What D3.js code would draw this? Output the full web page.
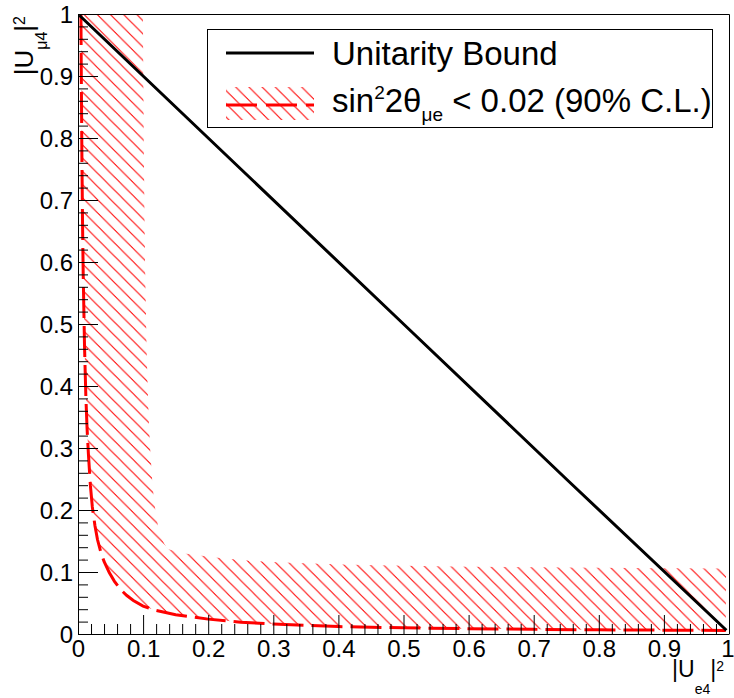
<!DOCTYPE html>
<html>
<head>
<meta charset="utf-8">
<script src="https://cdn.jsdelivr.net/npm/d3@7"></script>
<style>
  html, body { margin: 0; padding: 0; background: #fff; }
  svg { display: block; font-family: "Liberation Sans", Arial, Helvetica, sans-serif; }
  text { white-space: pre; }
</style>
</head>
<body>
<svg id="chart" width="734" height="698"></svg>
<script>
// sin^2(2θμe) = 0.02 (90% C.L.) contour in the (|U_e4|^2, |U_μ4|^2) plane
const limitUe4 = [0.0045, 0.005, 0.006, 0.007, 0.008, 0.010, 0.012, 0.014, 0.016, 0.019,
                  0.022, 0.026, 0.030, 0.035, 0.040, 0.048, 0.056, 0.065, 0.075, 0.085,
                  0.100, 0.120, 0.150, 0.200, 0.250, 0.300, 0.400, 0.500, 0.600, 0.700,
                  0.800, 0.900, 0.995];
const limitUmu4 = [1.000, 0.910, 0.770, 0.660, 0.580, 0.465, 0.385, 0.330, 0.290, 0.240,
                   0.205, 0.175, 0.152, 0.132, 0.117, 0.099, 0.085, 0.072, 0.062, 0.054,
                   0.045, 0.038, 0.031, 0.024, 0.019, 0.016, 0.012, 0.010, 0.0085, 0.0075,
                   0.0068, 0.0062, 0.0058];

// unitarity bound |U_e4|^2 + |U_μ4|^2 = 1
const boundUe4 = [0.002, 0.25, 0.50, 0.75, 0.996];
const boundUmu4 = [0.998, 0.75, 0.50, 0.25, 0.006];

const xTicks = [0, 0.1, 0.2, 0.3, 0.4, 0.5, 0.6, 0.7, 0.8, 0.9, 1];
const xTickLabels = ["0", "0.1", "0.2", "0.3", "0.4", "0.5", "0.6", "0.7", "0.8", "0.9", "1"];
const yTicks = [0, 0.1, 0.2, 0.3, 0.4, 0.5, 0.6, 0.7, 0.8, 0.9, 1];
const yTickLabels = ["0", "0.1", "0.2", "0.3", "0.4", "0.5", "0.6", "0.7", "0.8", "0.9", "1"];
const legendLabels = ["Unitarity Bound", "sin²2θμe < 0.02 (90% C.L.)"];

const svg = d3.select("#chart");
const frame = { left: 78, right: 729, top: 14, bottom: 634 };
const x = d3.scaleLinear().domain([0, 1]).range([frame.left, frame.right]);
const y = d3.scaleLinear().domain([0, 1]).range([frame.bottom, frame.top]);

const RED = "#ff0000";
const HATCH = 13.2, PHASE = 3.5;

// hatch pattern: "\" lines at 45 degrees
const defs = svg.append("defs");
const pat = defs.append("pattern")
  .attr("id", "hatch")
  .attr("patternUnits", "userSpaceOnUse")
  .attr("x", 0).attr("y", 0)
  .attr("width", HATCH).attr("height", HATCH);
pat.append("path")
  .attr("d", `M${PHASE - 2},-2 L${HATCH + 2},${HATCH - PHASE + 2} M-2,${HATCH - PHASE - 2} L${PHASE + 2},${HATCH + 2}`)
  .attr("stroke", RED).attr("stroke-width", 1).attr("fill", "none");

defs.append("clipPath").attr("id", "frameClip")
  .append("rect")
  .attr("x", frame.left).attr("y", frame.top)
  .attr("width", frame.right - frame.left).attr("height", frame.bottom - frame.top);

// excluded band: the contour offset by a fixed pixel width toward larger mixing
const limitPts = limitUe4.map((v, i) => [x(v), y(limitUmu4[i])]);
const bandWidth = 62;
const bandClip = defs.append("clipPath").attr("id", "bandClip");
for (let i = 0; i < limitPts.length - 1; i++) {
  const [x0, y0] = limitPts[i], [x1, y1] = limitPts[i + 1];
  const dx = x1 - x0, dy = y1 - y0, L = Math.hypot(dx, dy);
  const nx = dy / L * bandWidth, ny = -dx / L * bandWidth;
  bandClip.append("path")
    .attr("d", `M${x0},${y0} L${x1},${y1} L${x1 + nx},${y1 + ny} L${x0 + nx},${y0 + ny} Z`);
}

const plot = svg.append("g").attr("clip-path", "url(#frameClip)");
plot.append("g").attr("clip-path", "url(#bandClip)")
  .append("rect")
  .attr("x", 0).attr("y", 0).attr("width", 734).attr("height", 698)
  .attr("fill", "url(#hatch)");

const line = d3.line().x(d => d[0]).y(d => d[1]);

// dashed contour
plot.append("path")
  .attr("d", line(limitPts))
  .attr("fill", "none").attr("stroke", RED).attr("stroke-width", 3)
  .attr("stroke-dasharray", "31,8");

// unitarity bound
plot.append("path")
  .attr("d", line(boundUe4.map((v, i) => [x(v), y(boundUmu4[i])])))
  .attr("fill", "none").attr("stroke", "#000").attr("stroke-width", 3);

// axes
const minorX = d3.range(0, 1.0001, 0.02).filter(v => Math.abs(v * 10 - Math.round(v * 10)) > 1e-6);
const minorY = minorX.slice();

const xAxis = svg.append("g").attr("transform", `translate(0,${frame.bottom})`)
  .call(d3.axisBottom(x).tickValues(xTicks).tickFormat((d, i) => xTickLabels[i])
    .tickSizeInner(-19).tickSizeOuter(0).tickPadding(6));
svg.append("g").attr("transform", `translate(0,${frame.bottom})`)
  .call(d3.axisBottom(x).tickValues(minorX).tickFormat("").tickSizeInner(-10).tickSizeOuter(0))
  .select(".domain").remove();

const yAxis = svg.append("g").attr("transform", `translate(${frame.left},0)`)
  .call(d3.axisLeft(y).tickValues(yTicks).tickFormat((d, i) => yTickLabels[i])
    .tickSizeInner(-20).tickSizeOuter(0).tickPadding(5));
svg.append("g").attr("transform", `translate(${frame.left},0)`)
  .call(d3.axisLeft(y).tickValues(minorY).tickFormat("").tickSizeInner(-10).tickSizeOuter(0))
  .select(".domain").remove();

svg.selectAll(".tick line").attr("stroke", "#000").attr("stroke-width", 1);
svg.selectAll(".domain").attr("stroke", "#000");
svg.selectAll(".tick text")
  .attr("font-size", 24).attr("fill", "#000")
  .attr("font-family", "'Liberation Sans', Arial, Helvetica, sans-serif");
yAxis.selectAll(".tick text").attr("dy", "0.37em");
// last x label sits against the right edge of the canvas
xAxis.selectAll(".tick text").filter(d => d === 1)
  .attr("text-anchor", "end").attr("x", 5);

// frame top and right edges
svg.append("path")
  .attr("d", `M${frame.left},${frame.top + 0.5} H${frame.right + 0.5} V${frame.bottom}`)
  .attr("fill", "none").attr("stroke", "#000").attr("stroke-width", 1);

// axis titles
const xt = svg.append("text").attr("x", 724).attr("y", 677)
  .attr("text-anchor", "end").attr("font-size", 23).attr("fill", "#000");
xt.append("tspan").text("|U");
xt.append("tspan").attr("font-size", 14).attr("dy", 17).text("e4");
xt.append("tspan").attr("dy", -17).text("|");
xt.append("tspan").attr("font-size", 14).attr("dy", -6).text("2");

const yt = svg.append("text")
  .attr("transform", "translate(33,16) rotate(-90)")
  .attr("text-anchor", "end").attr("font-size", 26).attr("fill", "#000");
yt.append("tspan").text("|U");
yt.append("tspan").attr("font-size", 16).attr("dy", 14).text("μ4");
yt.append("tspan").attr("dy", -14).text("|");
yt.append("tspan").attr("font-size", 16).attr("dy", -8).text("2");

// legend
const lg = svg.append("g");
lg.append("rect")
  .attr("x", 207.5).attr("y", 29.5).attr("width", 505).attr("height", 98)
  .attr("fill", "#fff").attr("stroke", "#000").attr("stroke-width", 1);
lg.append("line")
  .attr("x1", 226).attr("x2", 314).attr("y1", 53).attr("y2", 53)
  .attr("stroke", "#000").attr("stroke-width", 3);
lg.append("text").attr("x", 332).attr("y", 65)
  .attr("font-size", 33).attr("fill", "#000").text(legendLabels[0]);

lg.append("rect")
  .attr("x", 226).attr("y", 87).attr("width", 88).attr("height", 33)
  .attr("fill", "url(#hatch)");
lg.append("line")
  .attr("x1", 226).attr("x2", 314).attr("y1", 105).attr("y2", 105)
  .attr("stroke", RED).attr("stroke-width", 3).attr("stroke-dasharray", "31,9");
const l2 = lg.append("text").attr("x", 332).attr("y", 112)
  .attr("font-size", 33).attr("fill", "#000");
l2.append("tspan").text("sin");
l2.append("tspan").attr("font-size", 19).attr("dy", -13).text("2");
l2.append("tspan").attr("dy", 13).text("2θ");
l2.append("tspan").attr("font-size", 19).attr("dy", 9).text("μe");
l2.append("tspan").attr("dy", -9).text(" < 0.02 (90% C.L.)");
</script>
</body>
</html>
